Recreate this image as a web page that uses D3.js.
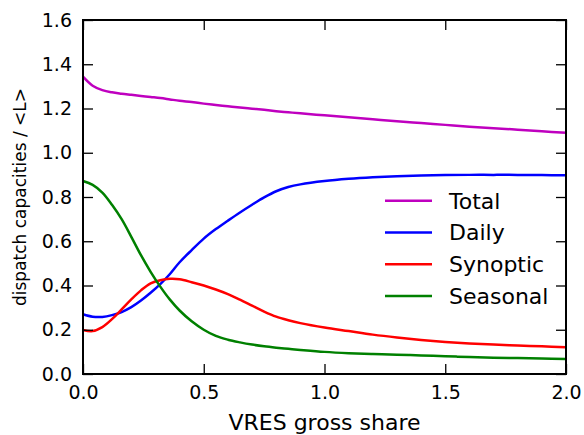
<!DOCTYPE html>
<html>
<head>
<meta charset="utf-8">
<script src="https://cdn.jsdelivr.net/npm/d3@7"></script>
<style>
  html, body { margin: 0; padding: 0; background: #fff; }
  svg { display: block; font-family: "DejaVu Sans", sans-serif; }
</style>
</head>
<body>
<svg id="chart" width="584" height="435"></svg>
<script>
const xShare = [0, 0.04, 0.08, 0.12, 0.16, 0.2, 0.24, 0.28, 0.32, 0.36, 0.4, 0.45, 0.5, 0.55, 0.6, 0.65, 0.7, 0.75, 0.8, 0.85, 0.9, 1.0, 1.1, 1.2, 1.3, 1.4, 1.5, 1.6, 1.7, 1.8, 1.9, 2.0];
const totalVals = [1.344, 1.303, 1.283, 1.273, 1.267, 1.262, 1.257, 1.252, 1.247, 1.241, 1.235, 1.229, 1.222, 1.216, 1.210, 1.204, 1.199, 1.194, 1.188, 1.183, 1.178, 1.169, 1.160, 1.151, 1.142, 1.134, 1.126, 1.118, 1.111, 1.104, 1.097, 1.090];
const dailyVals = [0.270, 0.259, 0.258, 0.266, 0.280, 0.302, 0.332, 0.367, 0.406, 0.452, 0.505, 0.560, 0.612, 0.655, 0.693, 0.730, 0.765, 0.798, 0.826, 0.845, 0.857, 0.872, 0.882, 0.889, 0.894, 0.897, 0.899, 0.900, 0.900, 0.900, 0.899, 0.898];
const synopticVals = [0.199, 0.194, 0.212, 0.248, 0.292, 0.337, 0.378, 0.410, 0.424, 0.430, 0.428, 0.415, 0.400, 0.382, 0.361, 0.336, 0.309, 0.282, 0.259, 0.243, 0.230, 0.210, 0.194, 0.178, 0.165, 0.154, 0.145, 0.138, 0.133, 0.129, 0.125, 0.121];
const seasonalVals = [0.872, 0.855, 0.820, 0.765, 0.700, 0.620, 0.537, 0.462, 0.395, 0.336, 0.287, 0.238, 0.200, 0.172, 0.155, 0.143, 0.133, 0.125, 0.119, 0.114, 0.109, 0.100, 0.094, 0.090, 0.087, 0.084, 0.080, 0.077, 0.074, 0.072, 0.070, 0.068];
const seriesNames = ["Total", "Daily", "Synoptic", "Seasonal"];
const seriesColors = ["#bf00bf", "#0000ff", "#ff0000", "#008000"];
const xTicks = [0, 0.5, 1.0, 1.5, 2.0];
const yTicks = [0, 0.2, 0.4, 0.6, 0.8, 1.0, 1.2, 1.4, 1.6];
const xLabel = "VRES gross share";
const yLabel = "dispatch capacities / <L>";

const seriesVals = [totalVals, dailyVals, synopticVals, seasonalVals];

const svg = d3.select("#chart");
const L = 83, R = 566, T = 20, B = 374;
const x = d3.scaleLinear().domain([0, 2]).range([L, R]);
const y = d3.scaleLinear().domain([0, 1.6]).range([B, T]);

const line = d3.line().x(d => x(d[0])).y(d => y(d[1])).curve(d3.curveCatmullRom.alpha(0.5));

const plot = svg.append("g");
seriesVals.forEach((vals, i) => {
  plot.append("path")
    .datum(xShare.map((xv, j) => [xv, vals[j]]))
    .attr("fill", "none")
    .attr("stroke", seriesColors[i])
    .attr("stroke-width", 2.5)
    .attr("d", line);
});

const fmt = d3.format(".1f");
const tickLen = 10;
const gB = svg.append("g").attr("transform", `translate(0,${B})`)
  .call(d3.axisBottom(x).tickValues(xTicks).tickFormat(fmt).tickSizeInner(-tickLen).tickSizeOuter(0).tickPadding(12));
const gL = svg.append("g").attr("transform", `translate(${L},0)`)
  .call(d3.axisLeft(y).tickValues(yTicks).tickFormat(fmt).tickSizeInner(-tickLen).tickSizeOuter(0).tickPadding(11));
const gT = svg.append("g").attr("transform", `translate(0,${T})`)
  .call(d3.axisTop(x).tickValues(xTicks).tickFormat("").tickSizeInner(-tickLen).tickSizeOuter(0));
const gR = svg.append("g").attr("transform", `translate(${R},0)`)
  .call(d3.axisRight(y).tickValues(yTicks).tickFormat("").tickSizeInner(-tickLen).tickSizeOuter(0));

[gB, gL, gT, gR].forEach(g => {
  g.select(".domain").remove();
  g.selectAll(".tick line").attr("stroke", "#000").attr("stroke-width", 1.3);
  g.selectAll(".tick text").attr("font-size", 19).attr("font-family", "DejaVu Sans").attr("fill", "#000");
});

svg.append("rect")
  .attr("x", L).attr("y", T).attr("width", R - L).attr("height", B - T)
  .attr("fill", "none").attr("stroke", "#000").attr("stroke-width", 2);

svg.append("text")
  .attr("x", (L + R) / 2).attr("y", 430)
  .attr("text-anchor", "middle").attr("font-size", 22)
  .text(xLabel);

svg.append("text")
  .attr("transform", `translate(26,${(T + B) / 2}) rotate(-90)`)
  .attr("text-anchor", "middle").attr("font-size", 17)
  .text(yLabel);

const leg = svg.append("g");
seriesNames.forEach((name, i) => {
  const cy = 200.7 + i * 31.8;
  leg.append("line").attr("x1", 385).attr("x2", 432).attr("y1", cy).attr("y2", cy)
    .attr("stroke", seriesColors[i]).attr("stroke-width", 2.5);
  leg.append("text").attr("x", 449).attr("y", cy).attr("dy", "0.36em")
    .attr("font-size", 22).text(name);
});
</script>
</body>
</html>
